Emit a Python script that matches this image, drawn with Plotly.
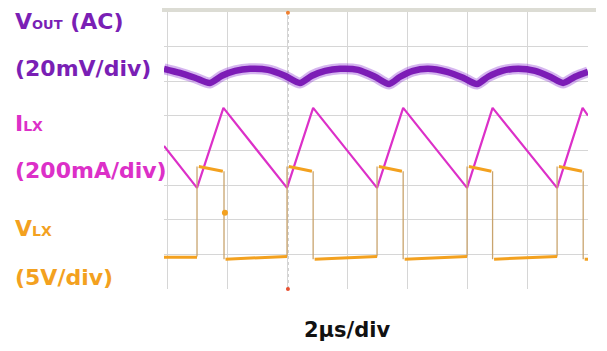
import plotly.graph_objects as go

# ---------------- data (time in µs, 2 µs/div; vertical in screen divisions) ----------------
x_grid = [0, 2, 4, 6, 8, 10, 12, 14]
y_grid = [0, 1, 2, 3, 4, 5, 6, 7, 8]

vout_t = [-0.10, 0.43, 0.93, 1.43, 1.83, 2.27, 2.77, 3.37, 3.93, 4.43, 4.83, 5.27, 5.77, 6.37,
          6.93, 7.40, 7.77, 8.20, 8.70, 9.33, 9.87, 10.33, 10.70, 11.17, 11.70, 12.27, 12.77,
          13.20, 13.60, 14.03]
vout_div = [6.36, 6.24, 6.10, 5.95, 6.16, 6.30, 6.36, 6.33, 6.16, 5.95, 6.16, 6.30, 6.36, 6.33,
            6.13, 5.92, 6.13, 6.30, 6.36, 6.27, 6.10, 5.92, 6.13, 6.30, 6.36, 6.30, 6.13,
            5.95, 6.13, 6.27]

ilx_t = [-0.10, 1.00, 1.88, 4.00, 4.87, 7.00, 7.87, 10.00, 10.85, 13.00, 13.85, 14.03]
ilx_div = [4.13, 2.92, 5.23, 2.92, 5.23, 2.92, 5.23, 2.92, 5.23, 2.92, 5.23, 5.01]

vlx_rise_t = [1.00, 4.00, 7.00, 10.00, 13.00]
vlx_fall_t = [1.90, 4.87, 7.87, 10.85, 13.87]
vlx_high_div = [3.54, 3.40]      # level at start / end of each on-time (droop)
vlx_low_div = [0.86, 0.94]       # level after fall / before next rise
vlx_first_low_div = 0.92
vlx_glitch_t = [1.93]
vlx_glitch_div = [2.20]

labels = ["V<span style='font-size:13px'>OUT</span> (AC)", "(20mV/div)",
          "I<span style='font-size:14px'>LX</span>", "(200mA/div)",
          "V<span style='font-size:14px'>LX</span>", "(5V/div)"]
time_label = "2µs/div"

# ---------------- styling ----------------
C_VOUT = "#7c1cb6"
C_VOUT_LBL = "#7a1fb5"
C_ILX = "#dc30c8"
C_VLX = "#f3a11f"
C_EDGE = "#c9a46e"
FONT = "DejaVu Sans"

T0, T1 = -0.10, 14.03
PAGE_OFF = 8                      # default page margin of the html body
SCREEN_W, SCREEN_H = 607, 351
W, H = SCREEN_W - PAGE_OFF, SCREEN_H - PAGE_OFF
PLOT_L, PLOT_R, PLOT_T, PLOT_B = 164, 588, 12, 289   # target screen pixels of the grid box
ML, MT = PLOT_L - PAGE_OFF, PLOT_T - PAGE_OFF
MR, MB = SCREEN_W - PLOT_R, SCREEN_H - PLOT_B
PW, PH = PLOT_R - PLOT_L, PLOT_B - PLOT_T


def px_x(px):
    return (px - PLOT_L) / PW


def px_y(py):
    return (PLOT_B - py) / PH


fig = go.Figure()

# VOUT: fuzzy thick band
fig.add_trace(go.Scatter(x=vout_t, y=vout_div, mode="lines",
                         line=dict(color="rgba(150,70,215,0.40)", width=11, shape="spline", smoothing=0.7),
                         hoverinfo="skip", showlegend=False))
fig.add_trace(go.Scatter(x=vout_t, y=vout_div, mode="lines",
                         line=dict(color=C_VOUT, width=6.5, shape="spline", smoothing=0.7),
                         showlegend=False))

# ILX triangle
fig.add_trace(go.Scatter(x=ilx_t, y=ilx_div, mode="lines",
                         line=dict(color=C_ILX, width=2.2), showlegend=False))

# VLX: thin switching edges
ex, ey = [], []
for r, f in zip(vlx_rise_t, vlx_fall_t):
    ex += [r, r, None, f, f, None]
    ey += [vlx_low_div[1], vlx_high_div[0], None, vlx_high_div[1], vlx_low_div[0], None]
fig.add_trace(go.Scatter(x=ex, y=ey, mode="lines", line=dict(color=C_EDGE, width=1.3),
                         showlegend=False, hoverinfo="skip"))

# VLX: thick levels
lx, ly = [T0, vlx_rise_t[0], None], [vlx_first_low_div, vlx_first_low_div, None]
for i, (r, f) in enumerate(zip(vlx_rise_t, vlx_fall_t)):
    lx += [r + 0.06, f - 0.04, None]
    ly += [vlx_high_div[0], vlx_high_div[1], None]
    nxt = vlx_rise_t[i + 1] if i + 1 < len(vlx_rise_t) else T1
    end_lvl = vlx_low_div[1] if i + 1 < len(vlx_rise_t) else vlx_low_div[0]
    lx += [f + 0.05, nxt, None]
    ly += [vlx_low_div[0], end_lvl, None]
fig.add_trace(go.Scatter(x=lx, y=ly, mode="lines", line=dict(color=C_VLX, width=3),
                         showlegend=False))
fig.add_trace(go.Scatter(x=vlx_glitch_t, y=vlx_glitch_div, mode="markers",
                         marker=dict(color=C_VLX, size=6), showlegend=False))

# scope reference markers on the right edge and trigger markers
fig.add_trace(go.Scatter(x=[14.22, 14.22, 14.22], y=[5.85, 2.02, 0.92], mode="markers",
                         marker=dict(color=[C_VOUT, C_VLX, "#333333"], size=4),
                         cliponaxis=False, showlegend=False, hoverinfo="skip"))
fig.add_trace(go.Scatter(x=[4.03, 4.03], y=[7.98, 0.0], mode="markers",
                         marker=dict(color=["#f08030", "#e85030"], size=4),
                         cliponaxis=False, showlegend=False, hoverinfo="skip"))

shapes = [
    # top status bar
    dict(type="rect", xref="paper", yref="paper", x0=px_x(162), x1=px_x(596),
         y0=px_y(12), y1=px_y(7), fillcolor="#dcdcd4", line=dict(width=0), layer="below"),
    # center dashed lines
    dict(type="line", xref="x", yref="y", x0=4.03, x1=4.03, y0=0, y1=8,
         line=dict(color="#a8a8a8", width=1.2, dash="dot"), layer="below"),
    dict(type="line", xref="x", yref="y", x0=T0, x1=T1, y0=4, y1=4,
         line=dict(color="#a8a8a8", width=1.2, dash="dot"), layer="below"),
]

annotations = []
lbl_pos = [(21.0, C_VOUT_LBL), (68.5, C_VOUT_LBL), (123.5, C_ILX), (170.5, C_ILX),
           (228.5, C_VLX), (277.5, C_VLX)]
for txt, (yc, col) in zip(labels, lbl_pos):
    annotations.append(dict(text="<b>" + txt + "</b>", xref="paper", yref="paper",
                            x=px_x(13), y=px_y(yc), xanchor="left", yanchor="middle",
                            showarrow=False, font=dict(family=FONT, size=22, color=col)))
annotations.append(dict(text="<b>" + time_label + "</b>", xref="paper", yref="paper",
                        x=px_x(347), y=px_y(329.5), xanchor="center", yanchor="middle",
                        showarrow=False, font=dict(family=FONT, size=21, color="#111111")))

fig.update_layout(
    width=W, height=H, margin=dict(l=ML, r=MR, t=MT, b=MB),
    paper_bgcolor="white", plot_bgcolor="white",
    xaxis=dict(range=[T0, T1], tickvals=x_grid, showticklabels=False, showgrid=True,
               gridcolor="#d6d6d6", gridwidth=1.2, zeroline=False, showline=False, ticks=""),
    yaxis=dict(range=[0, 8], tickvals=y_grid, showticklabels=False, showgrid=True,
               gridcolor="#d6d6d6", gridwidth=1.2, zeroline=False, showline=False, ticks=""),
    shapes=shapes, annotations=annotations, showlegend=False,
)

fig.write_html("out.html")
